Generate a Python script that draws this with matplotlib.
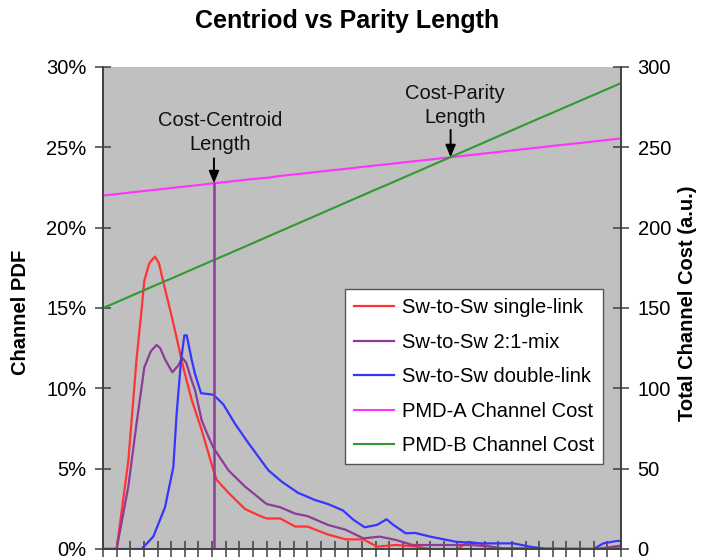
import matplotlib
matplotlib.use("Agg")
import matplotlib.pyplot as plt
import numpy as np
from matplotlib.ticker import PercentFormatter, MultipleLocator, NullFormatter

plt.rcParams['font.family'] = ['Liberation Sans', 'DejaVu Sans']

# channel length in arbitrary units (one tick per unit)
x_single = [0, 1.0, 1.86, 2.46, 2.83, 3.03, 3.4, 3.81, 4.1, 4.43, 4.92, 5.28, 5.89, 6.5, 7.24,
            8.1, 8.34, 9.2, 10.4, 11.4, 12.0, 13.0, 14.1, 15.0, 16.5, 17.8, 19.1, 20.1, 21.5,
            23.0, 24.0, 26.0, 26.8, 27.6, 28.4, 29.3, 37.0, 37.9, 38]
pdf_single = [0, 0, 5.5, 11.8, 14.9, 16.7, 17.8, 18.2, 17.8, 16.6, 14.9, 13.6, 11.3, 9.3, 7.4,
              4.9, 4.3, 3.5, 2.5, 2.1, 1.9, 1.9, 1.4, 1.4, 0.9, 0.6, 0.6, 0.15, 0.25,
              0.15, 0, 0, 0.45, 0.35, 0.15, 0, 0, 0.15, 0.2]

x_mix = [0, 1.0, 1.86, 2.46, 3.03, 3.5, 3.93, 4.2, 4.55, 5.09, 5.5, 5.82, 6.1, 6.5, 6.75, 7.24,
         7.73, 8.1, 9.2, 10.4, 12.0, 13.0, 14.1, 15.0, 16.5, 17.8, 19.1, 20.3, 21.5, 22.7,
         24.0, 27.0, 28.4, 29.3, 36.2, 37.9, 38]
pdf_mix = [0, 0, 3.9, 7.8, 11.3, 12.3, 12.7, 12.5, 11.8, 11.0, 11.4, 11.9, 11.6, 10.5, 9.9, 8.0,
           7.0, 6.3, 4.9, 3.9, 2.8, 2.6, 2.2, 2.05, 1.5, 1.2, 0.66, 0.77, 0.56, 0.25,
           0.25, 0.25, 0.15, 0.05, 0, 0.2, 0.25]

x_double = [0, 2.83, 3.69, 4.55, 5.16, 5.4, 5.72, 5.97, 6.14, 6.5, 6.75, 7.19, 8.1, 8.83, 9.68,
            10.66, 12.13, 13.1, 14.3, 15.55, 16.5, 17.6, 18.4, 19.2, 20.1, 20.8, 21.3, 22.2,
            22.9, 24.0, 25.9, 27.7, 30.1, 31.3, 32.5, 36.0, 36.7, 37.7, 38]
pdf_double = [0, 0, 0.77, 2.6, 5.1, 8.4, 11.7, 13.3, 13.3, 11.8, 10.9, 9.7, 9.6, 9.0, 7.8,
              6.6, 4.9, 4.2, 3.5, 3.05, 2.8, 2.4, 1.8, 1.35, 1.5, 1.85, 1.5, 0.98,
              1.0, 0.77, 0.45, 0.35, 0.35, 0.15, 0, 0, 0.35, 0.5, 0.5]

x_cost = list(range(39))
cost_pmd_a = [220.0, 220.9, 221.9, 222.8, 223.7, 224.7, 225.6, 226.5, 227.5, 228.4, 229.4,
              230.3, 231.0, 232.2, 233.1, 234.0, 235.0, 235.9, 236.8, 237.8, 238.7, 239.6,
              240.6, 241.5, 242.4, 243.4, 244.3, 245.2, 246.2, 247.1, 248.1, 249.0, 249.9,
              250.9, 251.8, 252.7, 253.7, 254.6, 255.5]
cost_pmd_b = [150.0, 153.6, 157.3, 161.0, 164.7, 168.3, 172.0, 175.7, 179.4, 183.0, 186.7,
              190.4, 194.1, 197.8, 201.5, 205.2, 208.9, 212.6, 216.3, 220.0, 223.7, 227.3,
              231.0, 234.7, 238.4, 242.1, 245.8, 249.5, 253.2, 256.9, 260.6, 264.3, 268.0,
              271.6, 275.3, 279.0, 282.6, 286.3, 290.0]

centroid_len = 8.14
parity_len = 25.5

fs = 14.5
spine_c = '#404040'

fig = plt.figure(figsize=(7.08, 5.6), dpi=100)
ax = fig.add_axes([103 / 708, 1 - 549 / 560, 518 / 708, 482 / 560])
ax.set_facecolor('#C0C0C0')
ax2 = ax.twinx()

l1, = ax.plot(x_single, pdf_single, color='#FF3333', lw=1.6, label='Sw-to-Sw single-link')
l2, = ax.plot(x_mix, pdf_mix, color='#8C3C98', lw=1.6, label='Sw-to-Sw 2:1-mix')
l3, = ax.plot(x_double, pdf_double, color='#3535FF', lw=1.6, label='Sw-to-Sw double-link')
l4, = ax2.plot(x_cost, cost_pmd_a, color='#FF33FF', lw=1.5, label='PMD-A Channel Cost')
l5, = ax2.plot(x_cost, cost_pmd_b, color='#2E9B2E', lw=1.5, label='PMD-B Channel Cost')

# cost-centroid marker line, up to the PMD-A cost curve
top_c = float(np.interp(centroid_len, x_cost, cost_pmd_a))
top_p = float(np.interp(parity_len, x_cost, cost_pmd_a))
ax2.plot([centroid_len, centroid_len], [0, top_c], color='#8C3C98', lw=1.8)

arrow = dict(arrowstyle='-|>,head_length=0.6,head_width=0.25', color='black', lw=1.4,
             shrinkA=0, shrinkB=0, mutation_scale=12)
ax2.annotate('', xy=(centroid_len, top_c), xytext=(centroid_len, top_c + 15.5), arrowprops=arrow)
ax2.annotate('', xy=(parity_len, top_p), xytext=(parity_len, top_p + 17), arrowprops=arrow)
ax2.text(8.58, 259, 'Cost-Centroid\nLength', ha='center', va='center', fontsize=fs,
         linespacing=1.35, color='#111111')
ax2.text(25.8, 276, 'Cost-Parity\nLength', ha='center', va='center', fontsize=fs,
         linespacing=1.35, color='#111111')

ax.set_xlim(0, 38)
ax.set_ylim(0, 30)
ax2.set_ylim(0, 300)
ax.xaxis.set_major_locator(MultipleLocator(1))
ax.xaxis.set_major_formatter(NullFormatter())
ax.yaxis.set_major_locator(MultipleLocator(5))
ax.yaxis.set_major_formatter(PercentFormatter(decimals=0))
ax2.yaxis.set_major_locator(MultipleLocator(50))

ax.tick_params(axis='x', direction='inout', length=11, width=1.1, color=spine_c)
ax.tick_params(axis='y', direction='inout', length=12, width=1.1, color=spine_c,
               labelsize=fs, pad=6)
ax2.tick_params(axis='y', direction='inout', length=12, width=1.1, color=spine_c,
                labelsize=fs, pad=6)

for a in (ax, ax2):
    a.spines['top'].set_visible(False)
    for s in ('left', 'right', 'bottom'):
        a.spines[s].set_color(spine_c)
        a.spines[s].set_linewidth(1.2)

ax.set_ylabel('Channel PDF', fontsize=fs, fontweight='bold')
ax.yaxis.set_label_coords(-0.141, 0.49)
ax2.set_ylabel('Total Channel Cost (a.u.)', fontsize=fs, fontweight='bold')
ax2.yaxis.set_label_coords(1.111, 0.51)

fig.text(347.5 / 708, 1 - 28 / 560, 'Centriod vs Parity Length', ha='center', va='baseline',
         fontsize=18, fontweight='bold')

leg = ax2.legend(handles=[l1, l2, l3, l4, l5], loc='upper right',
                 bbox_to_anchor=(0.9658, 0.5388), borderaxespad=0, fontsize=fs,
                 fancybox=False, framealpha=1, edgecolor='#555555',
                 handlelength=2.0, handletextpad=0.4, labelspacing=0.77, borderpad=0.45)
leg.get_frame().set_linewidth(1.0)

plt.savefig('out.png', dpi=100)
plt.close()
